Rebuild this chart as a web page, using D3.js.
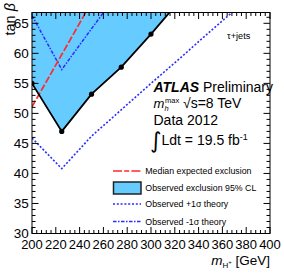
<!DOCTYPE html>
<html><head><meta charset="utf-8">
<script src="https://cdn.jsdelivr.net/npm/d3@7"></script>
<style>body{margin:0;background:#fff}svg{display:block;font-family:"Liberation Sans",Arial,sans-serif}</style>
</head><body><svg id="c" width="284" height="273"></svg>
<script>
// ---- data ----
const obsMass = [200, 225, 250, 275, 300, 325];
const observed = [55.0, 47.0, 53.2, 57.7, 63.2, 69.0];
const expMass = [200, 225, 250];
const expected = [51.1, 59.8, 68.5];
const plusMass = [200, 225, 250, 275, 300, 325, 350, 375];
const plusSigma = [45.9, 40.8, 46.2, 50.6, 55.0, 59.3, 63.7, 68.0];
const minusMass = [200, 225, 250, 275];
const minusSigma = [66.3, 57.3, 64.1, 70.8];
const xTickLabels = [200, 220, 240, 260, 280, 300, 320, 340, 360, 380, 400];
const yTickLabels = [30, 35, 40, 45, 50, 55, 60, 65];
const legendLabels = ["Median expected exclusion", "Observed exclusion 95% CL", "Observed +1\u03c3 theory", "Observed -1\u03c3 theory"];

const svg = d3.select("#c");
const L = 32, R = 270, T = 12.5, B = 233.5;
const x = d3.scaleLinear().domain([200, 400]).range([L, R]);
const y = d3.scaleLinear().domain([30, 66.8]).range([B, T]);

svg.append("clipPath").attr("id", "clip").append("rect")
  .attr("x", L).attr("y", T).attr("width", R - L).attr("height", B - T);
const g = svg.append("g").attr("clip-path", "url(#clip)");

const fillCol = "#66ccff", blue = "#2b2bff", red = "#ff2a2a";
const poly = obsMass.map((m, i) => [x(m), y(observed[i])]);
poly.push([x(obsMass[obsMass.length - 1]), y(90)], [x(200), y(90)]);
g.append("path").attr("d", d3.line()(poly)).attr("fill", fillCol).attr("stroke", "none");

const line = d3.line();
const dashMinus = "3.5,1.5,1.5,1.5", dashPlus = "2,1.8", dashExp = "7,2.2";
function curve(ms, vs, col, dash, w) {
  g.append("path").attr("d", line(ms.map((m, i) => [x(m), y(vs[i])])))
    .attr("fill", "none").attr("stroke", col).attr("stroke-width", w).attr("stroke-dasharray", dash);
}
curve(minusMass, minusSigma, blue, dashMinus, 1.5);
curve(plusMass, plusSigma, blue, dashPlus, 1.6);
curve(expMass, expected, red, dashExp, 1.7);
curve(obsMass, observed, "#000", null, 1.8);
g.selectAll("circle.o").data(obsMass).enter().append("circle")
  .attr("cx", d => x(d)).attr("cy", (d, i) => y(observed[i])).attr("r", 2.6).attr("fill", "#000");

// frame and ticks
const ax = svg.append("g").attr("stroke", "#000").attr("stroke-width", 1);
ax.append("rect").attr("x", L).attr("y", T).attr("width", R - L).attr("height", B - T).attr("fill", "none");
d3.range(200, 401, 4).forEach(v => {
  const major = v % 20 === 0, len = major ? 6.5 : 3.5;
  ax.append("line").attr("x1", x(v)).attr("x2", x(v)).attr("y1", B).attr("y2", B - len);
  ax.append("line").attr("x1", x(v)).attr("x2", x(v)).attr("y1", T).attr("y2", T + len);
});
d3.range(30, 67, 1).forEach(v => {
  const major = v % 5 === 0, len = major ? 6.5 : 3.5;
  ax.append("line").attr("y1", y(v)).attr("y2", y(v)).attr("x1", L).attr("x2", L + len);
  ax.append("line").attr("y1", y(v)).attr("y2", y(v)).attr("x1", R).attr("x2", R - len);
});
svg.append("g").selectAll("text").data(xTickLabels).enter().append("text")
  .attr("x", d => x(d)).attr("y", 249).attr("text-anchor", "middle").attr("font-size", 13).text(d => d);
svg.append("g").selectAll("text").data(yTickLabels).enter().append("text")
  .attr("x", 28.8).attr("y", d => y(d) + 4.7).attr("text-anchor", "end").attr("font-size", 13.5).text(d => d);

// axis titles
const yt = svg.append("text").attr("transform", "translate(15,3) rotate(-90)").attr("text-anchor", "end").attr("font-size", 14.5);
yt.append("tspan").text("tan ");
yt.append("tspan").attr("font-style", "italic").text("\u03b2");
const xt = svg.append("text").attr("x", 270).attr("y", 265).attr("text-anchor", "end").attr("font-size", 13.5);
xt.append("tspan").attr("font-style", "italic").text("m");
xt.append("tspan").attr("font-size", 8).attr("dy", 3).text("H");
xt.append("tspan").attr("font-size", 6).attr("dy", -4).text("+");
xt.append("tspan").attr("dy", 1).text(" [GeV]");

// annotations
svg.append("text").attr("x", 227).attr("y", 38.5).attr("font-size", 9.2).text("\u03c4+jets");
const at = svg.append("text").attr("x", 153.5).attr("y", 92).attr("font-size", 14);
at.append("tspan").attr("font-weight", "bold").attr("font-style", "italic").text("ATLAS");
at.append("tspan").text(" Preliminary");
svg.append("text").attr("x", 153.5).attr("y", 108).attr("font-size", 13).attr("font-style", "italic").text("m");
svg.append("text").attr("x", 164.5).attr("y", 111).attr("font-size", 7.5).attr("font-style", "italic").text("h");
svg.append("text").attr("x", 165).attr("y", 102.5).attr("font-size", 7.5).text("max");
svg.append("text").attr("x", 183).attr("y", 108).attr("font-size", 14).text("\u221as=8 TeV");
svg.append("text").attr("x", 153.5).attr("y", 125).attr("font-size", 14).text("Data 2012");
svg.append("text").attr("x", 150).attr("y", 148).attr("font-size", 22).attr("font-family", "DejaVu Sans").text("\u222b");
const lt = svg.append("text").attr("x", 161.5).attr("y", 145).attr("font-size", 14);
lt.append("tspan").text("Ldt = 19.5 fb");
lt.append("tspan").attr("font-size", 9).attr("dy", -5.5).text("-1");

// legend
const legY = [171, 188, 204, 221.5];
const lg = svg.append("g");
lg.append("line").attr("x1", 113).attr("x2", 141).attr("y1", legY[0]).attr("y2", legY[0])
  .attr("stroke", red).attr("stroke-width", 1.7).attr("stroke-dasharray", "9,2.2,5,2.2");
lg.append("rect").attr("x", 113.5).attr("y", 182).attr("width", 27.5).attr("height", 12)
  .attr("fill", fillCol).attr("stroke", "#222").attr("stroke-width", 1.5);
lg.append("line").attr("x1", 113).attr("x2", 141).attr("y1", legY[2]).attr("y2", legY[2])
  .attr("stroke", blue).attr("stroke-width", 1.6).attr("stroke-dasharray", dashPlus);
lg.append("line").attr("x1", 113).attr("x2", 141).attr("y1", legY[3]).attr("y2", legY[3])
  .attr("stroke", blue).attr("stroke-width", 1.5).attr("stroke-dasharray", dashMinus);
lg.selectAll("text").data(legendLabels).enter().append("text")
  .attr("x", 145.3).attr("y", (d, i) => legY[i] + 3).attr("font-size", 8.8).text(d => d);
</script></body></html>
